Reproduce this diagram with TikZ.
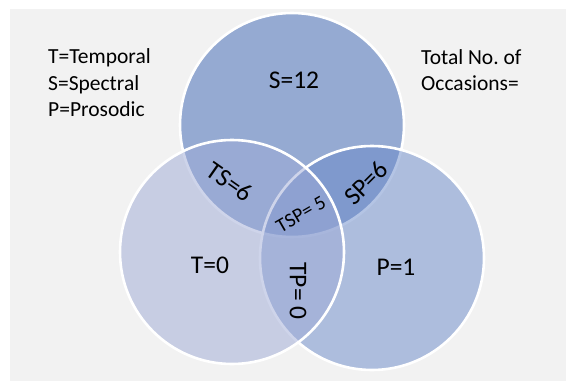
\documentclass[tikz,border=0pt]{standalone}
\usepackage{fontspec}
\setmainfont{Carlito}
\definecolor{backgray}{RGB}{242,242,242}
\definecolor{specblue}{RGB}{149,170,210}
\definecolor{prosblue}{RGB}{106,138,202}
\definecolor{tempblue}{RGB}{158,170,214}
\begin{document}
\begin{tikzpicture}[x=1pt,y=-1pt,
	set/.style={draw=white,line width=2.6pt},
	count/.style={font=\fontsize{25.5}{28}\selectfont,inner sep=0pt},
	key/.style={font=\fontsize{21.5}{26.5}\selectfont,align=left,anchor=west,inner sep=0pt}]
\useasboundingbox (0,0) rectangle (566,381);
\fill[backgray] (10,9) rectangle (566,381);
\coordinate (S) at (292,125);
\coordinate (P) at (372,258);
\coordinate (T) at (232,252);
% the three sets
\path[set,fill=specblue] (S) circle (112pt);
\path[set,fill=prosblue,fill opacity=0.5] (P) circle (112pt);
\path[set,fill=tempblue,fill opacity=0.5] (T) circle (112pt);
% counts
\node[count] (nS) at (294,80) {S=12};
\node[count] (nT) at (210,265) {T=0};
\node[count] (nP) at (396,267) {P=1};
\node[count,rotate=-35] (nTS) at (230,182) {TS=6};
\node[count,rotate=45] (nSP) at (366,183) {SP=6};
\node[count,rotate=30,font=\fontsize{20}{22}\selectfont] (nTSP) at (301,214) {TSP= 5};
\node[count,rotate=-90] (nTP) at (298,291) {TP= 0};
% legend
\node[key] (legend) at (48,83) {T=Temporal\\S=Spectral\\P=Prosodic};
\node[key] (total) at (421,70) {Total No.\ of\\Occasions=};
\end{tikzpicture}
\end{document}
